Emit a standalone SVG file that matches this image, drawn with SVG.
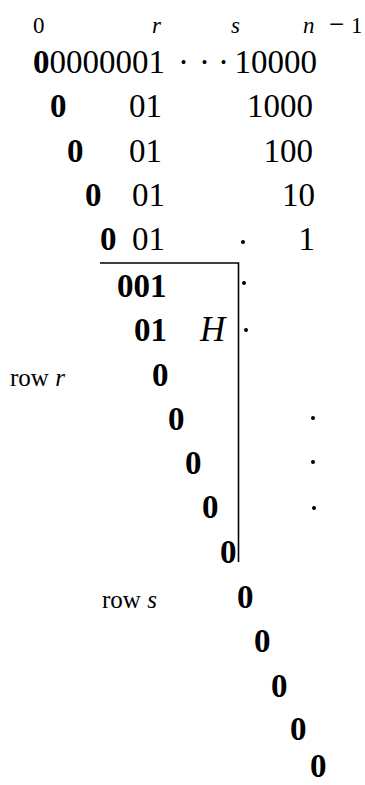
<svg xmlns="http://www.w3.org/2000/svg" width="365" height="785" viewBox="0 0 365 785">
<style>
text{font-family:"Liberation Serif","Times New Roman",serif;fill:#000}
.m{font-size:33px}
.h{font-size:23px}
.b{font-weight:bold}
.i{font-style:italic}
.lbl{font-size:25px}
.e{text-anchor:end}
.rule{fill:none;stroke:#000;stroke-width:1.6}
.dot{fill:#000}
</style>
<rect width="365" height="785" fill="#fff"/>
<g id="header">
<text class="h" x="33" y="33">0</text>
<text class="h i" x="152" y="33">r</text>
<text class="h i" x="231" y="33">s</text>
<text class="h" y="33"><tspan class="i" x="303">n</tspan><tspan x="329" style="font-size:27px">−</tspan><tspan x="351">1</tspan></text>
</g>
<g id="row1">
<text class="m" x="33" y="73"><tspan class="b">0</tspan>0000001</text>
<text class="m" x="178 199 218" y="73">···</text>
<text class="m e" x="317" y="73">10000</text>
</g>
<g id="row2">
<text class="m b" x="50" y="117">0</text>
<text class="m" x="129" y="117">01</text>
<text class="m e" x="313" y="117">1000</text>
</g>
<g id="row3">
<text class="m b" x="67" y="162">0</text>
<text class="m" x="129" y="162">01</text>
<text class="m e" x="313" y="162">100</text>
</g>
<g id="row4">
<text class="m b" x="85" y="206">0</text>
<text class="m" x="132" y="206">01</text>
<text class="m e" x="315" y="206">10</text>
</g>
<g id="row5">
<text class="m b" x="100" y="250">0</text>
<text class="m" x="132" y="250">01</text>
<circle class="dot" cx="243" cy="242" r="2"/>
<text class="m e" x="315" y="250">1</text>
</g>
<g id="connectors">
<path class="rule" d="M100,263 H238.5 V562"/>
</g>
<g id="row6">
<text class="m b" x="117" y="297">001</text>
<circle class="dot" cx="244" cy="283" r="2"/>
</g>
<g id="row7">
<text class="m b" x="134" y="341">01</text>
<text class="m i" x="200" y="341" style="font-size:35px">H</text>
<circle class="dot" cx="246" cy="330" r="2"/>
</g>
<g id="row8">
<text class="lbl" x="10" y="386">row <tspan class="i">r</tspan></text>
<text class="m b" x="152" y="386">0</text>
</g>
<g id="row9">
<text class="m b" x="168" y="430">0</text>
<circle class="dot" cx="313" cy="418" r="2"/>
</g>
<g id="row10">
<text class="m b" x="185" y="474">0</text>
<circle class="dot" cx="313" cy="462" r="2"/>
</g>
<g id="row11">
<text class="m b" x="202" y="518">0</text>
<circle class="dot" cx="314" cy="508" r="2"/>
</g>
<g id="row12">
<text class="m b" x="220" y="563">0</text>
</g>
<g id="row13">
<text class="lbl" x="102" y="608">row <tspan class="i">s</tspan></text>
<text class="m b" x="237" y="608">0</text>
</g>
<g id="row14">
<text class="m b" x="254" y="652">0</text>
</g>
<g id="row15">
<text class="m b" x="271" y="697">0</text>
</g>
<g id="row16">
<text class="m b" x="290" y="740">0</text>
</g>
<g id="row17">
<text class="m b" x="310" y="777">0</text>
</g>
</svg>
